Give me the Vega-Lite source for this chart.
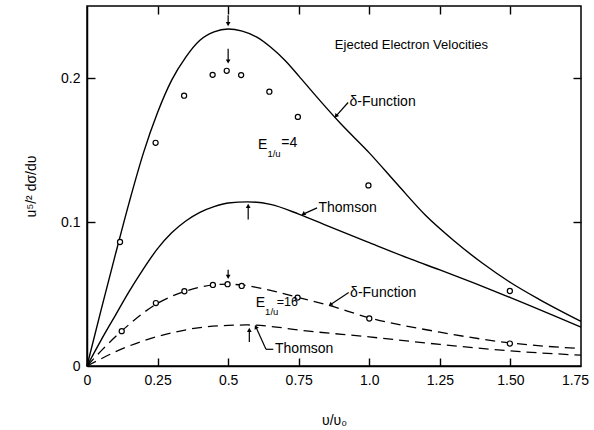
{
  "$schema": "https://vega.github.io/schema/vega-lite/v6.json",
  "width": 494,
  "height": 360,
  "autosize": {"type": "none"},
  "padding": {"left": 87, "top": 6, "right": 13, "bottom": 64},
  "background": "white",
  "config": {
    "view": {"stroke": "black", "strokeWidth": 1.5},
    "font": "Liberation Sans",
    "axis": {
      "grid": false,
      "domainColor": "black",
      "domainWidth": 1.5,
      "tickColor": "black",
      "tickWidth": 1.4,
      "labelColor": "black",
      "titleColor": "black",
      "labelFontSize": 14,
      "titleFontSize": 14,
      "titleFontWeight": "normal"
    }
  },
  "datasets": {
    "curves": [
      {"series": "d4", "x": 0, "y": 0},
      {"series": "d4", "x": 0.05, "y": 0.039},
      {"series": "d4", "x": 0.1, "y": 0.077},
      {"series": "d4", "x": 0.15, "y": 0.114},
      {"series": "d4", "x": 0.2, "y": 0.148},
      {"series": "d4", "x": 0.25, "y": 0.176},
      {"series": "d4", "x": 0.3, "y": 0.1985},
      {"series": "d4", "x": 0.35, "y": 0.2145},
      {"series": "d4", "x": 0.4, "y": 0.2262},
      {"series": "d4", "x": 0.45, "y": 0.232},
      {"series": "d4", "x": 0.5, "y": 0.234},
      {"series": "d4", "x": 0.55, "y": 0.2325},
      {"series": "d4", "x": 0.6, "y": 0.2285},
      {"series": "d4", "x": 0.65, "y": 0.2215},
      {"series": "d4", "x": 0.7, "y": 0.2125},
      {"series": "d4", "x": 0.75, "y": 0.2015},
      {"series": "d4", "x": 0.8, "y": 0.19},
      {"series": "d4", "x": 0.9, "y": 0.168},
      {"series": "d4", "x": 1.0, "y": 0.148},
      {"series": "d4", "x": 1.1, "y": 0.126},
      {"series": "d4", "x": 1.2, "y": 0.1045},
      {"series": "d4", "x": 1.3, "y": 0.087},
      {"series": "d4", "x": 1.4, "y": 0.0715},
      {"series": "d4", "x": 1.5, "y": 0.058},
      {"series": "d4", "x": 1.6, "y": 0.0465},
      {"series": "d4", "x": 1.75, "y": 0.031},
      {"series": "t4", "x": 0, "y": 0},
      {"series": "t4", "x": 0.05, "y": 0.018},
      {"series": "t4", "x": 0.1, "y": 0.035},
      {"series": "t4", "x": 0.15, "y": 0.052},
      {"series": "t4", "x": 0.2, "y": 0.0675},
      {"series": "t4", "x": 0.25, "y": 0.0815},
      {"series": "t4", "x": 0.3, "y": 0.0925},
      {"series": "t4", "x": 0.35, "y": 0.1007},
      {"series": "t4", "x": 0.4, "y": 0.1067},
      {"series": "t4", "x": 0.45, "y": 0.1107},
      {"series": "t4", "x": 0.5, "y": 0.1132},
      {"series": "t4", "x": 0.57, "y": 0.114},
      {"series": "t4", "x": 0.65, "y": 0.1122},
      {"series": "t4", "x": 0.75, "y": 0.1055},
      {"series": "t4", "x": 0.85, "y": 0.0975},
      {"series": "t4", "x": 1.0, "y": 0.0857},
      {"series": "t4", "x": 1.15, "y": 0.074},
      {"series": "t4", "x": 1.25, "y": 0.0667},
      {"series": "t4", "x": 1.5, "y": 0.0475},
      {"series": "t4", "x": 1.75, "y": 0.027},
      {"series": "d16", "x": 0, "y": 0},
      {"series": "d16", "x": 0.05, "y": 0.0105},
      {"series": "d16", "x": 0.12, "y": 0.0238},
      {"series": "d16", "x": 0.25, "y": 0.0435},
      {"series": "d16", "x": 0.35, "y": 0.052},
      {"series": "d16", "x": 0.45, "y": 0.0563},
      {"series": "d16", "x": 0.5, "y": 0.0568},
      {"series": "d16", "x": 0.55, "y": 0.0562},
      {"series": "d16", "x": 0.65, "y": 0.0525},
      {"series": "d16", "x": 0.75, "y": 0.0475},
      {"series": "d16", "x": 0.85, "y": 0.0425},
      {"series": "d16", "x": 1.0, "y": 0.0335},
      {"series": "d16", "x": 1.25, "y": 0.0235},
      {"series": "d16", "x": 1.5, "y": 0.016},
      {"series": "d16", "x": 1.75, "y": 0.0121},
      {"series": "t16", "x": 0, "y": 0},
      {"series": "t16", "x": 0.05, "y": 0.005},
      {"series": "t16", "x": 0.1, "y": 0.0098},
      {"series": "t16", "x": 0.2, "y": 0.0175},
      {"series": "t16", "x": 0.3, "y": 0.023},
      {"series": "t16", "x": 0.4, "y": 0.0267},
      {"series": "t16", "x": 0.5, "y": 0.0282},
      {"series": "t16", "x": 0.57, "y": 0.0285},
      {"series": "t16", "x": 0.65, "y": 0.0275},
      {"series": "t16", "x": 0.75, "y": 0.025},
      {"series": "t16", "x": 1.0, "y": 0.0202},
      {"series": "t16", "x": 1.25, "y": 0.015},
      {"series": "t16", "x": 1.5, "y": 0.0105},
      {"series": "t16", "x": 1.75, "y": 0.0075}
    ],
    "points": [
      {"series": "E4", "x": 0.117, "y": 0.0861},
      {"series": "E4", "x": 0.243, "y": 0.155},
      {"series": "E4", "x": 0.344, "y": 0.1877},
      {"series": "E4", "x": 0.445, "y": 0.2022},
      {"series": "E4", "x": 0.495, "y": 0.205},
      {"series": "E4", "x": 0.546, "y": 0.202},
      {"series": "E4", "x": 0.646, "y": 0.1905},
      {"series": "E4", "x": 0.747, "y": 0.173},
      {"series": "E4", "x": 0.997, "y": 0.1254},
      {"series": "E4", "x": 1.498, "y": 0.0521},
      {"series": "E16", "x": 0.123, "y": 0.0242},
      {"series": "E16", "x": 0.244, "y": 0.0437},
      {"series": "E16", "x": 0.345, "y": 0.0519},
      {"series": "E16", "x": 0.446, "y": 0.0563},
      {"series": "E16", "x": 0.498, "y": 0.0568},
      {"series": "E16", "x": 0.548, "y": 0.0556},
      {"series": "E16", "x": 0.746, "y": 0.0475},
      {"series": "E16", "x": 1.0, "y": 0.033},
      {"series": "E16", "x": 1.498, "y": 0.0156}
    ],
    "labels": [
      {"text": "Ejected  Electron  Velocities", "x": 0.878, "y": 0.2226, "role": "title"},
      {"text": "δ-Function", "x": 0.93, "y": 0.183, "role": "main"},
      {"text": "Thomson", "x": 0.82, "y": 0.1098, "role": "main"},
      {"text": "δ-Function", "x": 0.932, "y": 0.051, "role": "main"},
      {"text": "Thomson", "x": 0.666, "y": 0.0116, "role": "main"},
      {"text": "E", "x": 0.606, "y": 0.1533, "role": "main"},
      {"text": "1/u", "x": 0.639, "y": 0.1475, "role": "sub"},
      {"text": "=4", "x": 0.688, "y": 0.1547, "role": "main"},
      {"text": "E", "x": 0.598, "y": 0.044, "role": "main"},
      {"text": "1/u", "x": 0.631, "y": 0.0375, "role": "sub"},
      {"text": "=16", "x": 0.672, "y": 0.0446, "role": "small"}
    ],
    "arrows": [
      {"dir": "down", "x": 0.5, "y": 0.2435, "x2": 0.5, "y2": 0.2374},
      {"dir": "down", "x": 0.5, "y": 0.2203, "x2": 0.5, "y2": 0.2115},
      {"dir": "up", "x": 0.571, "y": 0.1017, "x2": 0.571, "y2": 0.1112},
      {"dir": "down", "x": 0.5, "y": 0.0668, "x2": 0.5, "y2": 0.0619},
      {"dir": "up", "x": 0.575, "y": 0.0167, "x2": 0.575, "y2": 0.0251},
      {"dir": "dl1", "x": 0.925, "y": 0.183, "x2": 0.882, "y2": 0.1735},
      {"dir": "dl2", "x": 0.815, "y": 0.1098, "x2": 0.766, "y2": 0.1055},
      {"dir": "dl3", "x": 0.927, "y": 0.051, "x2": 0.862, "y2": 0.0425},
      {"dir": "ul", "x": 0.634, "y": 0.0116, "x2": 0.598, "y2": 0.0272},
      {"dir": "none", "x": 0.634, "y": 0.0116, "x2": 0.66, "y2": 0.0116}
    ]
  },
  "encoding": {
    "x": {"field": "x", "type": "quantitative", "scale": {"domain": [0, 1.75], "nice": false, "zero": false}, "axis": null},
    "y": {"field": "y", "type": "quantitative", "scale": {"domain": [0, 0.25], "nice": false, "zero": false}, "axis": null}
  },
  "layer": [
    {
      "data": {"name": "curves"},
      "transform": [{"filter": "datum.series == 'd4' || datum.series == 't4'"}],
      "mark": {"type": "line", "color": "black", "strokeWidth": 1.4, "interpolate": "monotone"},
      "encoding": {
        "x": {
          "field": "x", "type": "quantitative",
          "scale": {"domain": [0, 1.75], "nice": false, "zero": false},
          "axis": {
            "orient": "bottom",
            "values": [0, 0.25, 0.5, 0.75, 1, 1.25, 1.5, 1.75],
            "labelExpr": "datum.value == 0 ? '0' : datum.value == 1 ? '1.0' : datum.value == 1.5 ? '1.50' : format(datum.value, '.2~f')",
            "ticks": false,
            "labelFlush": false,
            "labelPadding": 7,
            "labelOffset": {"condition": {"test": "datum.value == 1.75", "value": -6}, "value": 0},
            "title": "υ/υ₀",
            "titlePadding": 26
          }
        },
        "y": {
          "field": "y", "type": "quantitative",
          "scale": {"domain": [0, 0.25], "nice": false, "zero": false},
          "axis": {
            "orient": "left",
            "values": [0, 0.1, 0.2],
            "labelExpr": "datum.value == 0 ? '0' : format(datum.value, '.1~f')",
            "ticks": false,
            "labelFlush": false,
            "labelPadding": 7,
            "title": "u⁵/² dσ/dυ",
            "titlePadding": 22
          }
        },
        "detail": {"field": "series"}
      }
    },
    {
      "data": {"name": "curves"},
      "transform": [{"filter": "datum.series == 'd16' || datum.series == 't16'"}],
      "mark": {"type": "line", "color": "black", "strokeWidth": 1.3, "strokeDash": [10, 6], "interpolate": "monotone"},
      "encoding": {
        "x": {
          "field": "x", "type": "quantitative",
          "scale": {"domain": [0, 1.75], "nice": false, "zero": false},
          "axis": {"orient": "top", "offset": -8, "domain": false, "values": [0.25, 0.5, 0.75, 1, 1.25, 1.5], "labels": false, "tickSize": 8, "title": null}
        },
        "y": {
          "field": "y", "type": "quantitative",
          "scale": {"domain": [0, 0.25], "nice": false, "zero": false},
          "axis": {"orient": "right", "offset": -8, "domain": false, "values": [0.1, 0.2], "labels": false, "tickSize": 8, "title": null}
        },
        "detail": {"field": "series"}
      }
    },
    {
      "data": {"name": "arrows"},
      "mark": {"type": "rule", "color": "black", "strokeWidth": 1.2},
      "encoding": {
        "x2": {"field": "x2"},
        "y2": {"field": "y2"}
      }
    },
    {
      "data": {"name": "arrows"},
      "transform": [{"filter": "datum.dir == 'down'"}],
      "mark": {"type": "point", "shape": "triangle-down", "filled": true, "color": "black", "size": 22, "opacity": 1},
      "encoding": {
        "x": {"field": "x2", "type": "quantitative", "scale": {"domain": [0, 1.75], "nice": false, "zero": false}, "axis": null},
        "y": {"field": "y2", "type": "quantitative", "scale": {"domain": [0, 0.25], "nice": false, "zero": false}, "axis": null}
      }
    },
    {
      "data": {"name": "arrows"},
      "transform": [{"filter": "datum.dir == 'up'"}],
      "mark": {"type": "point", "shape": "triangle-up", "filled": true, "color": "black", "size": 22, "opacity": 1},
      "encoding": {
        "x": {"field": "x2", "type": "quantitative", "scale": {"domain": [0, 1.75], "nice": false, "zero": false}, "axis": null},
        "y": {"field": "y2", "type": "quantitative", "scale": {"domain": [0, 0.25], "nice": false, "zero": false}, "axis": null}
      }
    },
    {
      "data": {"name": "arrows"},
      "transform": [{"filter": "datum.dir == 'dl1'"}],
      "mark": {"type": "point", "shape": "triangle-up", "filled": true, "color": "black", "size": 22, "opacity": 1, "angle": 218},
      "encoding": {
        "x": {"field": "x2", "type": "quantitative", "scale": {"domain": [0, 1.75], "nice": false, "zero": false}, "axis": null},
        "y": {"field": "y2", "type": "quantitative", "scale": {"domain": [0, 0.25], "nice": false, "zero": false}, "axis": null}
      }
    },
    {
      "data": {"name": "arrows"},
      "transform": [{"filter": "datum.dir == 'dl2'"}],
      "mark": {"type": "point", "shape": "triangle-up", "filled": true, "color": "black", "size": 22, "opacity": 1, "angle": 238},
      "encoding": {
        "x": {"field": "x2", "type": "quantitative", "scale": {"domain": [0, 1.75], "nice": false, "zero": false}, "axis": null},
        "y": {"field": "y2", "type": "quantitative", "scale": {"domain": [0, 0.25], "nice": false, "zero": false}, "axis": null}
      }
    },
    {
      "data": {"name": "arrows"},
      "transform": [{"filter": "datum.dir == 'dl3'"}],
      "mark": {"type": "point", "shape": "triangle-up", "filled": true, "color": "black", "size": 22, "opacity": 1, "angle": 234},
      "encoding": {
        "x": {"field": "x2", "type": "quantitative", "scale": {"domain": [0, 1.75], "nice": false, "zero": false}, "axis": null},
        "y": {"field": "y2", "type": "quantitative", "scale": {"domain": [0, 0.25], "nice": false, "zero": false}, "axis": null}
      }
    },
    {
      "data": {"name": "arrows"},
      "transform": [{"filter": "datum.dir == 'ul'"}],
      "mark": {"type": "point", "shape": "triangle-up", "filled": true, "color": "black", "size": 22, "opacity": 1, "angle": 335},
      "encoding": {
        "x": {"field": "x2", "type": "quantitative", "scale": {"domain": [0, 1.75], "nice": false, "zero": false}, "axis": null},
        "y": {"field": "y2", "type": "quantitative", "scale": {"domain": [0, 0.25], "nice": false, "zero": false}, "axis": null}
      }
    },
    {
      "data": {"name": "points"},
      "mark": {"type": "point", "shape": "circle", "filled": false, "fill": "white", "fillOpacity": 1, "stroke": "black", "strokeWidth": 1.2, "size": 26, "opacity": 1},
      "encoding": {
        "x": {
          "field": "x", "type": "quantitative",
          "scale": {"domain": [0, 1.75], "nice": false, "zero": false},
          "axis": {"orient": "bottom", "offset": -8, "domain": false, "values": [0.25, 0.5, 0.75, 1, 1.25, 1.5], "labels": false, "tickSize": 8, "title": null}
        },
        "y": {
          "field": "y", "type": "quantitative",
          "scale": {"domain": [0, 0.25], "nice": false, "zero": false},
          "axis": {"orient": "left", "offset": -8, "domain": false, "values": [0.1, 0.2], "labels": false, "tickSize": 8, "title": null}
        }
      }
    },
    {
      "data": {"name": "labels"},
      "transform": [{"filter": "datum.role == 'main'"}],
      "mark": {"type": "text", "align": "left", "baseline": "middle", "fontSize": 14, "color": "black"},
      "encoding": {"text": {"field": "text"}}
    },
    {
      "data": {"name": "labels"},
      "transform": [{"filter": "datum.role == 'small'"}],
      "mark": {"type": "text", "align": "left", "baseline": "middle", "fontSize": 12.5, "color": "black"},
      "encoding": {"text": {"field": "text"}}
    },
    {
      "data": {"name": "labels"},
      "transform": [{"filter": "datum.role == 'sub'"}],
      "mark": {"type": "text", "align": "left", "baseline": "middle", "fontSize": 9.5, "color": "black"},
      "encoding": {"text": {"field": "text"}}
    },
    {
      "data": {"name": "labels"},
      "transform": [{"filter": "datum.role == 'title'"}],
      "mark": {"type": "text", "align": "left", "baseline": "middle", "fontSize": 13, "color": "black"},
      "encoding": {"text": {"field": "text"}}
    }
  ],
  "resolve": {"axis": {"x": "independent", "y": "independent"}}
}
